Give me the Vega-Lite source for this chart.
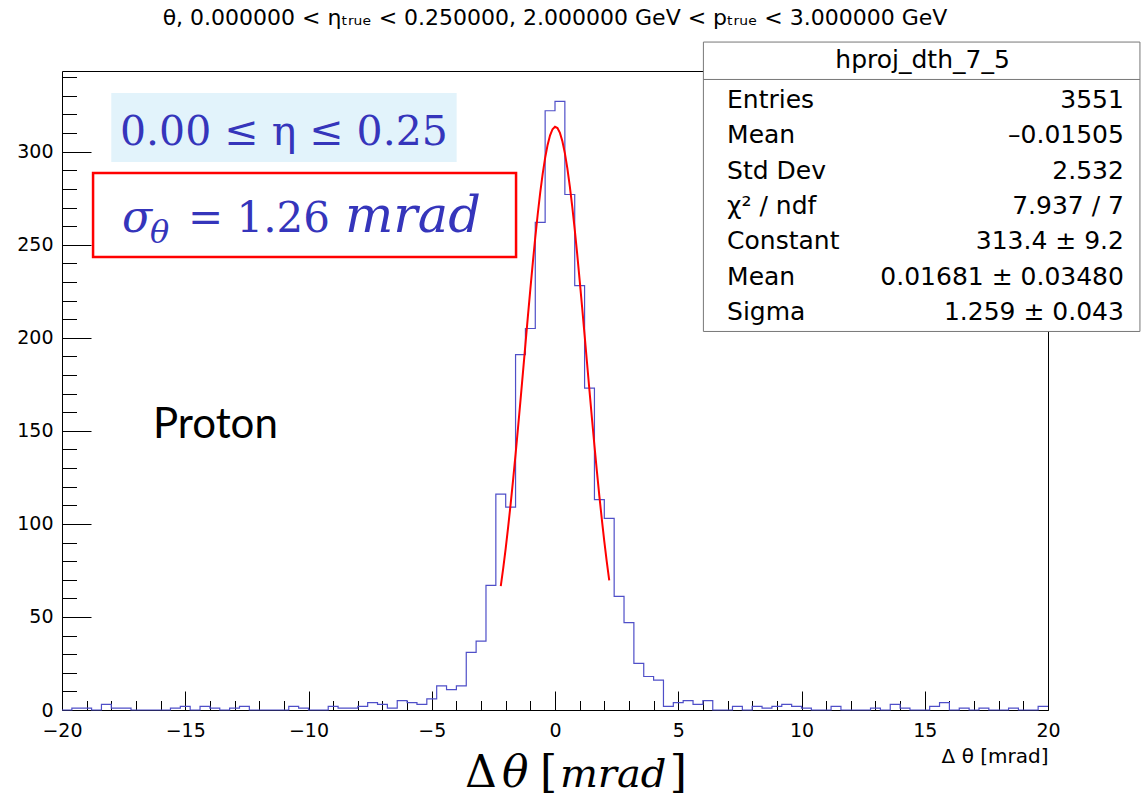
{
  "$schema": "https://vega.github.io/schema/vega-lite/v6.json",
  "width": 986,
  "height": 639,
  "autosize": {"type": "none"},
  "padding": {"left": 62, "top": 71, "right": 94, "bottom": 93},
  "background": "white",
  "config": {
    "view": {"stroke": "#000", "strokeWidth": 1},
    "axis": {"grid": false, "domain": false, "tickColor": "#000", "tickWidth": 1, "labelFont": "DejaVu Sans", "labelFontSize": 19, "labelColor": "#000", "labelOverlap": false, "labelFlush": false}
  },
  "resolve": {"axis": {"x": "independent", "y": "independent"}},
  "layer": [
    {
      "data": {"values": [
        {"x": -20, "n": 0}, {"x": -19.6, "n": 1}, {"x": -19.2, "n": 1}, {"x": -18.8, "n": 0}, {"x": -18.4, "n": 3},
        {"x": -18, "n": 1}, {"x": -17.6, "n": 1}, {"x": -17.2, "n": 0}, {"x": -16.8, "n": 0}, {"x": -16.4, "n": 0},
        {"x": -16, "n": 0}, {"x": -15.6, "n": 1}, {"x": -15.2, "n": 2}, {"x": -14.8, "n": 0}, {"x": -14.4, "n": 2},
        {"x": -14, "n": 1}, {"x": -13.6, "n": 0}, {"x": -13.2, "n": 1}, {"x": -12.8, "n": 2}, {"x": -12.4, "n": 0},
        {"x": -12, "n": 0}, {"x": -11.6, "n": 0}, {"x": -11.2, "n": 0}, {"x": -10.8, "n": 2}, {"x": -10.4, "n": 1},
        {"x": -10, "n": 0}, {"x": -9.6, "n": 0}, {"x": -9.2, "n": 2}, {"x": -8.8, "n": 1}, {"x": -8.4, "n": 1},
        {"x": -8, "n": 2}, {"x": -7.6, "n": 4}, {"x": -7.2, "n": 3}, {"x": -6.8, "n": 1}, {"x": -6.4, "n": 5},
        {"x": -6, "n": 4}, {"x": -5.6, "n": 3}, {"x": -5.2, "n": 6}, {"x": -4.8, "n": 13}, {"x": -4.4, "n": 11},
        {"x": -4, "n": 13}, {"x": -3.6, "n": 31}, {"x": -3.2, "n": 37}, {"x": -2.8, "n": 67}, {"x": -2.4, "n": 116},
        {"x": -2, "n": 109}, {"x": -1.6, "n": 191}, {"x": -1.2, "n": 205}, {"x": -0.8, "n": 262}, {"x": -0.4, "n": 322},
        {"x": 0, "n": 327}, {"x": 0.4, "n": 277}, {"x": 0.8, "n": 228}, {"x": 1.2, "n": 173}, {"x": 1.6, "n": 113},
        {"x": 2, "n": 103}, {"x": 2.4, "n": 61}, {"x": 2.8, "n": 47}, {"x": 3.2, "n": 25}, {"x": 3.6, "n": 18},
        {"x": 4, "n": 16}, {"x": 4.4, "n": 2}, {"x": 4.8, "n": 4}, {"x": 5.2, "n": 5}, {"x": 5.6, "n": 3},
        {"x": 6, "n": 5}, {"x": 6.4, "n": 0}, {"x": 6.8, "n": 0}, {"x": 7.2, "n": 2}, {"x": 7.6, "n": 0},
        {"x": 8, "n": 2}, {"x": 8.4, "n": 1}, {"x": 8.8, "n": 2}, {"x": 9.2, "n": 3}, {"x": 9.6, "n": 2},
        {"x": 10, "n": 1}, {"x": 10.4, "n": 0}, {"x": 10.8, "n": 0}, {"x": 11.2, "n": 2}, {"x": 11.6, "n": 0},
        {"x": 12, "n": 0}, {"x": 12.4, "n": 0}, {"x": 12.8, "n": 1}, {"x": 13.2, "n": 0}, {"x": 13.6, "n": 3},
        {"x": 14, "n": 1}, {"x": 14.4, "n": 0}, {"x": 14.8, "n": 0}, {"x": 15.2, "n": 2}, {"x": 15.6, "n": 4},
        {"x": 16, "n": 0}, {"x": 16.4, "n": 1}, {"x": 16.8, "n": 0}, {"x": 17.2, "n": 1}, {"x": 17.6, "n": 0},
        {"x": 18, "n": 0}, {"x": 18.4, "n": 1}, {"x": 18.8, "n": 0}, {"x": 19.2, "n": 0}, {"x": 19.6, "n": 2},
        {"x": 20, "n": 2}
      ]},
      "mark": {"type": "line", "interpolate": "step-after", "color": "#4f4fc8", "strokeWidth": 1.2},
      "encoding": {
        "x": {"field": "x", "type": "quantitative",
          "scale": {"domain": [-20, 20], "nice": false, "zero": false},
          "axis": {
            "orient": "bottom",
            "values": [-20, -15, -10, -5, 0, 5, 10, 15, 20],
            "tickSize": -19, "labelPadding": 30,
            "title": "Δ θ [mrad]", "titleAnchor": "end", "titleAlign": "right", "titleFont": "DejaVu Sans", "titleFontSize": 20, "titleFontWeight": "normal", "titleColor": "#000", "titlePadding": 6
          }
        },
        "y": {"field": "n", "type": "quantitative",
          "scale": {"domain": [0, 343.35], "nice": false, "zero": false},
          "axis": {
            "orient": "left",
            "values": [0, 50, 100, 150, 200, 250, 300],
            "tickSize": -29, "labelPadding": 38, "title": null
          }
        }
      }
    },
    {
      "data": {"values": [
        {"x": -2.2, "f": 66.51}, {"x": -2.1, "f": 76.25}, {"x": -2.0, "f": 86.87}, {"x": -1.9, "f": 98.35}, {"x": -1.8, "f": 110.64},
        {"x": -1.7, "f": 123.70}, {"x": -1.6, "f": 137.40}, {"x": -1.5, "f": 151.67}, {"x": -1.4, "f": 166.39}, {"x": -1.3, "f": 181.37},
        {"x": -1.2, "f": 196.46}, {"x": -1.1, "f": 211.47}, {"x": -1.0, "f": 226.19}, {"x": -0.9, "f": 240.41}, {"x": -0.8, "f": 253.92},
        {"x": -0.7, "f": 266.51}, {"x": -0.6, "f": 277.96}, {"x": -0.5, "f": 288.08}, {"x": -0.4, "f": 296.69}, {"x": -0.3, "f": 303.63},
        {"x": -0.2, "f": 308.79}, {"x": -0.1, "f": 312.06}, {"x": 0.0, "f": 313.37}, {"x": 0.1, "f": 312.72}, {"x": 0.2, "f": 310.10},
        {"x": 0.3, "f": 305.57}, {"x": 0.4, "f": 299.22}, {"x": 0.5, "f": 291.15}, {"x": 0.6, "f": 281.52}, {"x": 0.7, "f": 270.49},
        {"x": 0.8, "f": 258.26}, {"x": 0.9, "f": 245.04}, {"x": 1.0, "f": 231.03}, {"x": 1.1, "f": 216.46}, {"x": 1.2, "f": 201.53},
        {"x": 1.3, "f": 186.44}, {"x": 1.4, "f": 171.39}, {"x": 1.5, "f": 156.57}, {"x": 1.6, "f": 142.14}, {"x": 1.7, "f": 128.23},
        {"x": 1.8, "f": 114.94}, {"x": 1.9, "f": 102.40}, {"x": 2.0, "f": 90.63}, {"x": 2.1, "f": 79.73}, {"x": 2.2, "f": 69.69}
      ]},
      "mark": {"type": "line", "color": "#ff0000", "strokeWidth": 2},
      "encoding": {
        "x": {"field": "x", "type": "quantitative",
          "axis": {"orient": "bottom", "values": [-19,-18,-17,-16,-14,-13,-12,-11,-9,-8,-7,-6,-4,-3,-2,-1,1,2,3,4,6,7,8,9,11,12,13,14,16,17,18,19], "tickSize": -9.5, "labels": false, "title": null}
        },
        "y": {"field": "f", "type": "quantitative",
          "axis": {"orient": "left", "values": [10,20,30,40,60,70,80,90,110,120,130,140,160,170,180,190,210,220,230,240,260,270,280,290,310,320,330,340], "tickSize": -14.5, "labels": false, "title": null}
        }
      }
    },
    {
      "data": {"values": [{}]},
      "mark": {"type": "rect", "fill": "#e2f3fb"},
      "encoding": {"x": {"datum": -18.0, "type": "quantitative", "axis": null}, "x2": {"datum": -3.99}, "y": {"datum": 331.5, "type": "quantitative", "axis": null}, "y2": {"datum": 294.4}}
    },
    {
      "data": {"values": [{}]},
      "mark": {"type": "text", "text": "0.00 ≤ η ≤ 0.25", "font": "DejaVu Serif", "fontSize": 41, "color": "#3535bb", "align": "left", "baseline": "alphabetic"},
      "encoding": {"x": {"datum": -17.65, "type": "quantitative", "axis": null}, "y": {"datum": 303.6, "type": "quantitative", "axis": null}}
    },
    {
      "data": {"values": [{}]},
      "mark": {"type": "rect", "fillOpacity": 0, "stroke": "#ff0000", "strokeWidth": 2.5},
      "encoding": {"x": {"datum": -18.74, "type": "quantitative", "axis": null}, "x2": {"datum": -1.58}, "y": {"datum": 288.5, "type": "quantitative", "axis": null}, "y2": {"datum": 243.4}}
    },
    {
      "data": {"values": [{}]},
      "mark": {"type": "text", "text": "σ", "font": "DejaVu Serif", "fontStyle": "italic", "fontSize": 44, "color": "#3535bb", "align": "left", "baseline": "alphabetic"},
      "encoding": {"x": {"datum": -17.57, "type": "quantitative", "axis": null}, "y": {"datum": 256.8, "type": "quantitative", "axis": null}}
    },
    {
      "data": {"values": [{}]},
      "mark": {"type": "text", "text": "θ", "font": "DejaVu Serif", "fontStyle": "italic", "fontSize": 32, "color": "#3535bb", "align": "left", "baseline": "alphabetic"},
      "encoding": {"x": {"datum": -16.43, "type": "quantitative", "axis": null}, "y": {"datum": 250.9, "type": "quantitative", "axis": null}}
    },
    {
      "data": {"values": [{}]},
      "mark": {"type": "text", "text": "= 1.26", "font": "DejaVu Serif", "fontSize": 42, "color": "#3535bb", "align": "left", "baseline": "alphabetic"},
      "encoding": {"x": {"datum": -14.89, "type": "quantitative", "axis": null}, "y": {"datum": 256.8, "type": "quantitative", "axis": null}}
    },
    {
      "data": {"values": [{}]},
      "mark": {"type": "text", "text": "mrad", "font": "DejaVu Serif", "fontStyle": "italic", "fontSize": 51, "color": "#3535bb", "align": "left", "baseline": "alphabetic"},
      "encoding": {"x": {"datum": -8.52, "type": "quantitative", "axis": null}, "y": {"datum": 256.8, "type": "quantitative", "axis": null}}
    },
    {
      "data": {"values": [{}]},
      "mark": {"type": "text", "text": "Proton", "font": "Lato", "fontSize": 42, "color": "#000", "align": "left", "baseline": "alphabetic"},
      "encoding": {"x": {"datum": -16.31, "type": "quantitative", "axis": null}, "y": {"datum": 146.2, "type": "quantitative", "axis": null}}
    },
    {
      "data": {"values": [{}]},
      "mark": {"type": "text", "text": "Δ", "font": "DejaVu Serif", "fontSize": 44, "color": "#000", "align": "left", "baseline": "alphabetic"},
      "encoding": {"x": {"datum": -3.65, "type": "quantitative", "axis": null}, "y": {"datum": -41.4, "type": "quantitative", "axis": null}}
    },
    {
      "data": {"values": [{}]},
      "mark": {"type": "text", "text": "θ", "font": "DejaVu Serif", "fontStyle": "italic", "fontSize": 44, "color": "#000", "align": "left", "baseline": "alphabetic"},
      "encoding": {"x": {"datum": -2.15, "type": "quantitative", "axis": null}, "y": {"datum": -41.4, "type": "quantitative", "axis": null}}
    },
    {
      "data": {"values": [{}]},
      "mark": {"type": "text", "text": "[", "font": "DejaVu Serif", "fontSize": 44, "color": "#000", "align": "left", "baseline": "alphabetic"},
      "encoding": {"x": {"datum": -0.61, "type": "quantitative", "axis": null}, "y": {"datum": -41.4, "type": "quantitative", "axis": null}}
    },
    {
      "data": {"values": [{}]},
      "mark": {"type": "text", "text": "mrad", "font": "DejaVu Serif", "fontStyle": "italic", "fontSize": 40, "color": "#000", "align": "left", "baseline": "alphabetic"},
      "encoding": {"x": {"datum": 0.2, "type": "quantitative", "axis": null}, "y": {"datum": -41.4, "type": "quantitative", "axis": null}}
    },
    {
      "data": {"values": [{}]},
      "mark": {"type": "text", "text": "]", "font": "DejaVu Serif", "fontSize": 44, "color": "#000", "align": "left", "baseline": "alphabetic"},
      "encoding": {"x": {"datum": 4.66, "type": "quantitative", "axis": null}, "y": {"datum": -41.4, "type": "quantitative", "axis": null}}
    },
    {
      "data": {"values": [{}]},
      "mark": {"type": "text", "text": "θ, 0.000000 < ηₜᵣᵤₑ < 0.250000, 2.000000 GeV < pₜᵣᵤₑ < 3.000000 GeV", "font": "DejaVu Sans", "fontSize": 22, "color": "#000", "align": "center", "baseline": "alphabetic"},
      "encoding": {"x": {"datum": 0, "type": "quantitative", "axis": null}, "y": {"datum": 368.1, "type": "quantitative", "axis": null}}
    },
    {
      "data": {"values": [{}]},
      "mark": {"type": "rect", "fill": "white", "stroke": "#777", "strokeWidth": 1},
      "encoding": {"x": {"datum": 6.02, "type": "quantitative", "axis": null}, "x2": {"datum": 23.73}, "y": {"datum": 358.9, "type": "quantitative", "axis": null}, "y2": {"datum": 203.4}}
    },
    {
      "data": {"values": [{}]},
      "mark": {"type": "rule", "color": "#777", "strokeWidth": 1},
      "encoding": {"x": {"datum": 6.02, "type": "quantitative", "axis": null}, "x2": {"datum": 23.73}, "y": {"datum": 338.8, "type": "quantitative", "axis": null}}
    },
    {
      "data": {"values": [{}]},
      "mark": {"type": "text", "text": "hproj_dth_7_5", "font": "DejaVu Sans", "fontSize": 25, "color": "#000", "align": "center", "baseline": "alphabetic"},
      "encoding": {"x": {"datum": 14.91, "type": "quantitative", "axis": null}, "y": {"datum": 344.95, "type": "quantitative", "axis": null}}
    },
    {"data": {"values": [{}]}, "mark": {"type": "text", "text": "Entries", "font": "DejaVu Sans", "fontSize": 25, "color": "#000", "align": "left", "baseline": "alphabetic"},
     "encoding": {"x": {"datum": 6.98, "type": "quantitative", "axis": null}, "y": {"datum": 323.3, "type": "quantitative", "axis": null}}},
    {"data": {"values": [{}]}, "mark": {"type": "text", "text": "3551", "font": "DejaVu Sans", "fontSize": 25, "color": "#000", "align": "right", "baseline": "alphabetic"},
     "encoding": {"x": {"datum": 23.08, "type": "quantitative", "axis": null}, "y": {"datum": 323.3, "type": "quantitative", "axis": null}}},
    {"data": {"values": [{}]}, "mark": {"type": "text", "text": "Mean", "font": "DejaVu Sans", "fontSize": 25, "color": "#000", "align": "left", "baseline": "alphabetic"},
     "encoding": {"x": {"datum": 6.98, "type": "quantitative", "axis": null}, "y": {"datum": 304.5, "type": "quantitative", "axis": null}}},
    {"data": {"values": [{}]}, "mark": {"type": "text", "text": "–0.01505", "font": "DejaVu Sans", "fontSize": 25, "color": "#000", "align": "right", "baseline": "alphabetic"},
     "encoding": {"x": {"datum": 23.08, "type": "quantitative", "axis": null}, "y": {"datum": 304.5, "type": "quantitative", "axis": null}}},
    {"data": {"values": [{}]}, "mark": {"type": "text", "text": "Std Dev", "font": "DejaVu Sans", "fontSize": 25, "color": "#000", "align": "left", "baseline": "alphabetic"},
     "encoding": {"x": {"datum": 6.98, "type": "quantitative", "axis": null}, "y": {"datum": 285.5, "type": "quantitative", "axis": null}}},
    {"data": {"values": [{}]}, "mark": {"type": "text", "text": "2.532", "font": "DejaVu Sans", "fontSize": 25, "color": "#000", "align": "right", "baseline": "alphabetic"},
     "encoding": {"x": {"datum": 23.08, "type": "quantitative", "axis": null}, "y": {"datum": 285.5, "type": "quantitative", "axis": null}}},
    {"data": {"values": [{}]}, "mark": {"type": "text", "text": "χ² / ndf", "font": "DejaVu Sans", "fontSize": 25, "color": "#000", "align": "left", "baseline": "alphabetic"},
     "encoding": {"x": {"datum": 6.98, "type": "quantitative", "axis": null}, "y": {"datum": 266.5, "type": "quantitative", "axis": null}}},
    {"data": {"values": [{}]}, "mark": {"type": "text", "text": "7.937 / 7", "font": "DejaVu Sans", "fontSize": 25, "color": "#000", "align": "right", "baseline": "alphabetic"},
     "encoding": {"x": {"datum": 23.08, "type": "quantitative", "axis": null}, "y": {"datum": 266.5, "type": "quantitative", "axis": null}}},
    {"data": {"values": [{}]}, "mark": {"type": "text", "text": "Constant", "font": "DejaVu Sans", "fontSize": 25, "color": "#000", "align": "left", "baseline": "alphabetic"},
     "encoding": {"x": {"datum": 6.98, "type": "quantitative", "axis": null}, "y": {"datum": 247.5, "type": "quantitative", "axis": null}}},
    {"data": {"values": [{}]}, "mark": {"type": "text", "text": "313.4 ± 9.2", "font": "DejaVu Sans", "fontSize": 25, "color": "#000", "align": "right", "baseline": "alphabetic"},
     "encoding": {"x": {"datum": 23.08, "type": "quantitative", "axis": null}, "y": {"datum": 247.5, "type": "quantitative", "axis": null}}},
    {"data": {"values": [{}]}, "mark": {"type": "text", "text": "Mean", "font": "DejaVu Sans", "fontSize": 25, "color": "#000", "align": "left", "baseline": "alphabetic"},
     "encoding": {"x": {"datum": 6.98, "type": "quantitative", "axis": null}, "y": {"datum": 228.5, "type": "quantitative", "axis": null}}},
    {"data": {"values": [{}]}, "mark": {"type": "text", "text": "0.01681 ± 0.03480", "font": "DejaVu Sans", "fontSize": 25, "color": "#000", "align": "right", "baseline": "alphabetic"},
     "encoding": {"x": {"datum": 23.08, "type": "quantitative", "axis": null}, "y": {"datum": 228.5, "type": "quantitative", "axis": null}}},
    {"data": {"values": [{}]}, "mark": {"type": "text", "text": "Sigma", "font": "DejaVu Sans", "fontSize": 25, "color": "#000", "align": "left", "baseline": "alphabetic"},
     "encoding": {"x": {"datum": 6.98, "type": "quantitative", "axis": null}, "y": {"datum": 209.4, "type": "quantitative", "axis": null}}},
    {"data": {"values": [{}]}, "mark": {"type": "text", "text": "1.259 ± 0.043", "font": "DejaVu Sans", "fontSize": 25, "color": "#000", "align": "right", "baseline": "alphabetic"},
     "encoding": {"x": {"datum": 23.08, "type": "quantitative", "axis": null}, "y": {"datum": 209.4, "type": "quantitative", "axis": null}}}
  ]
}
